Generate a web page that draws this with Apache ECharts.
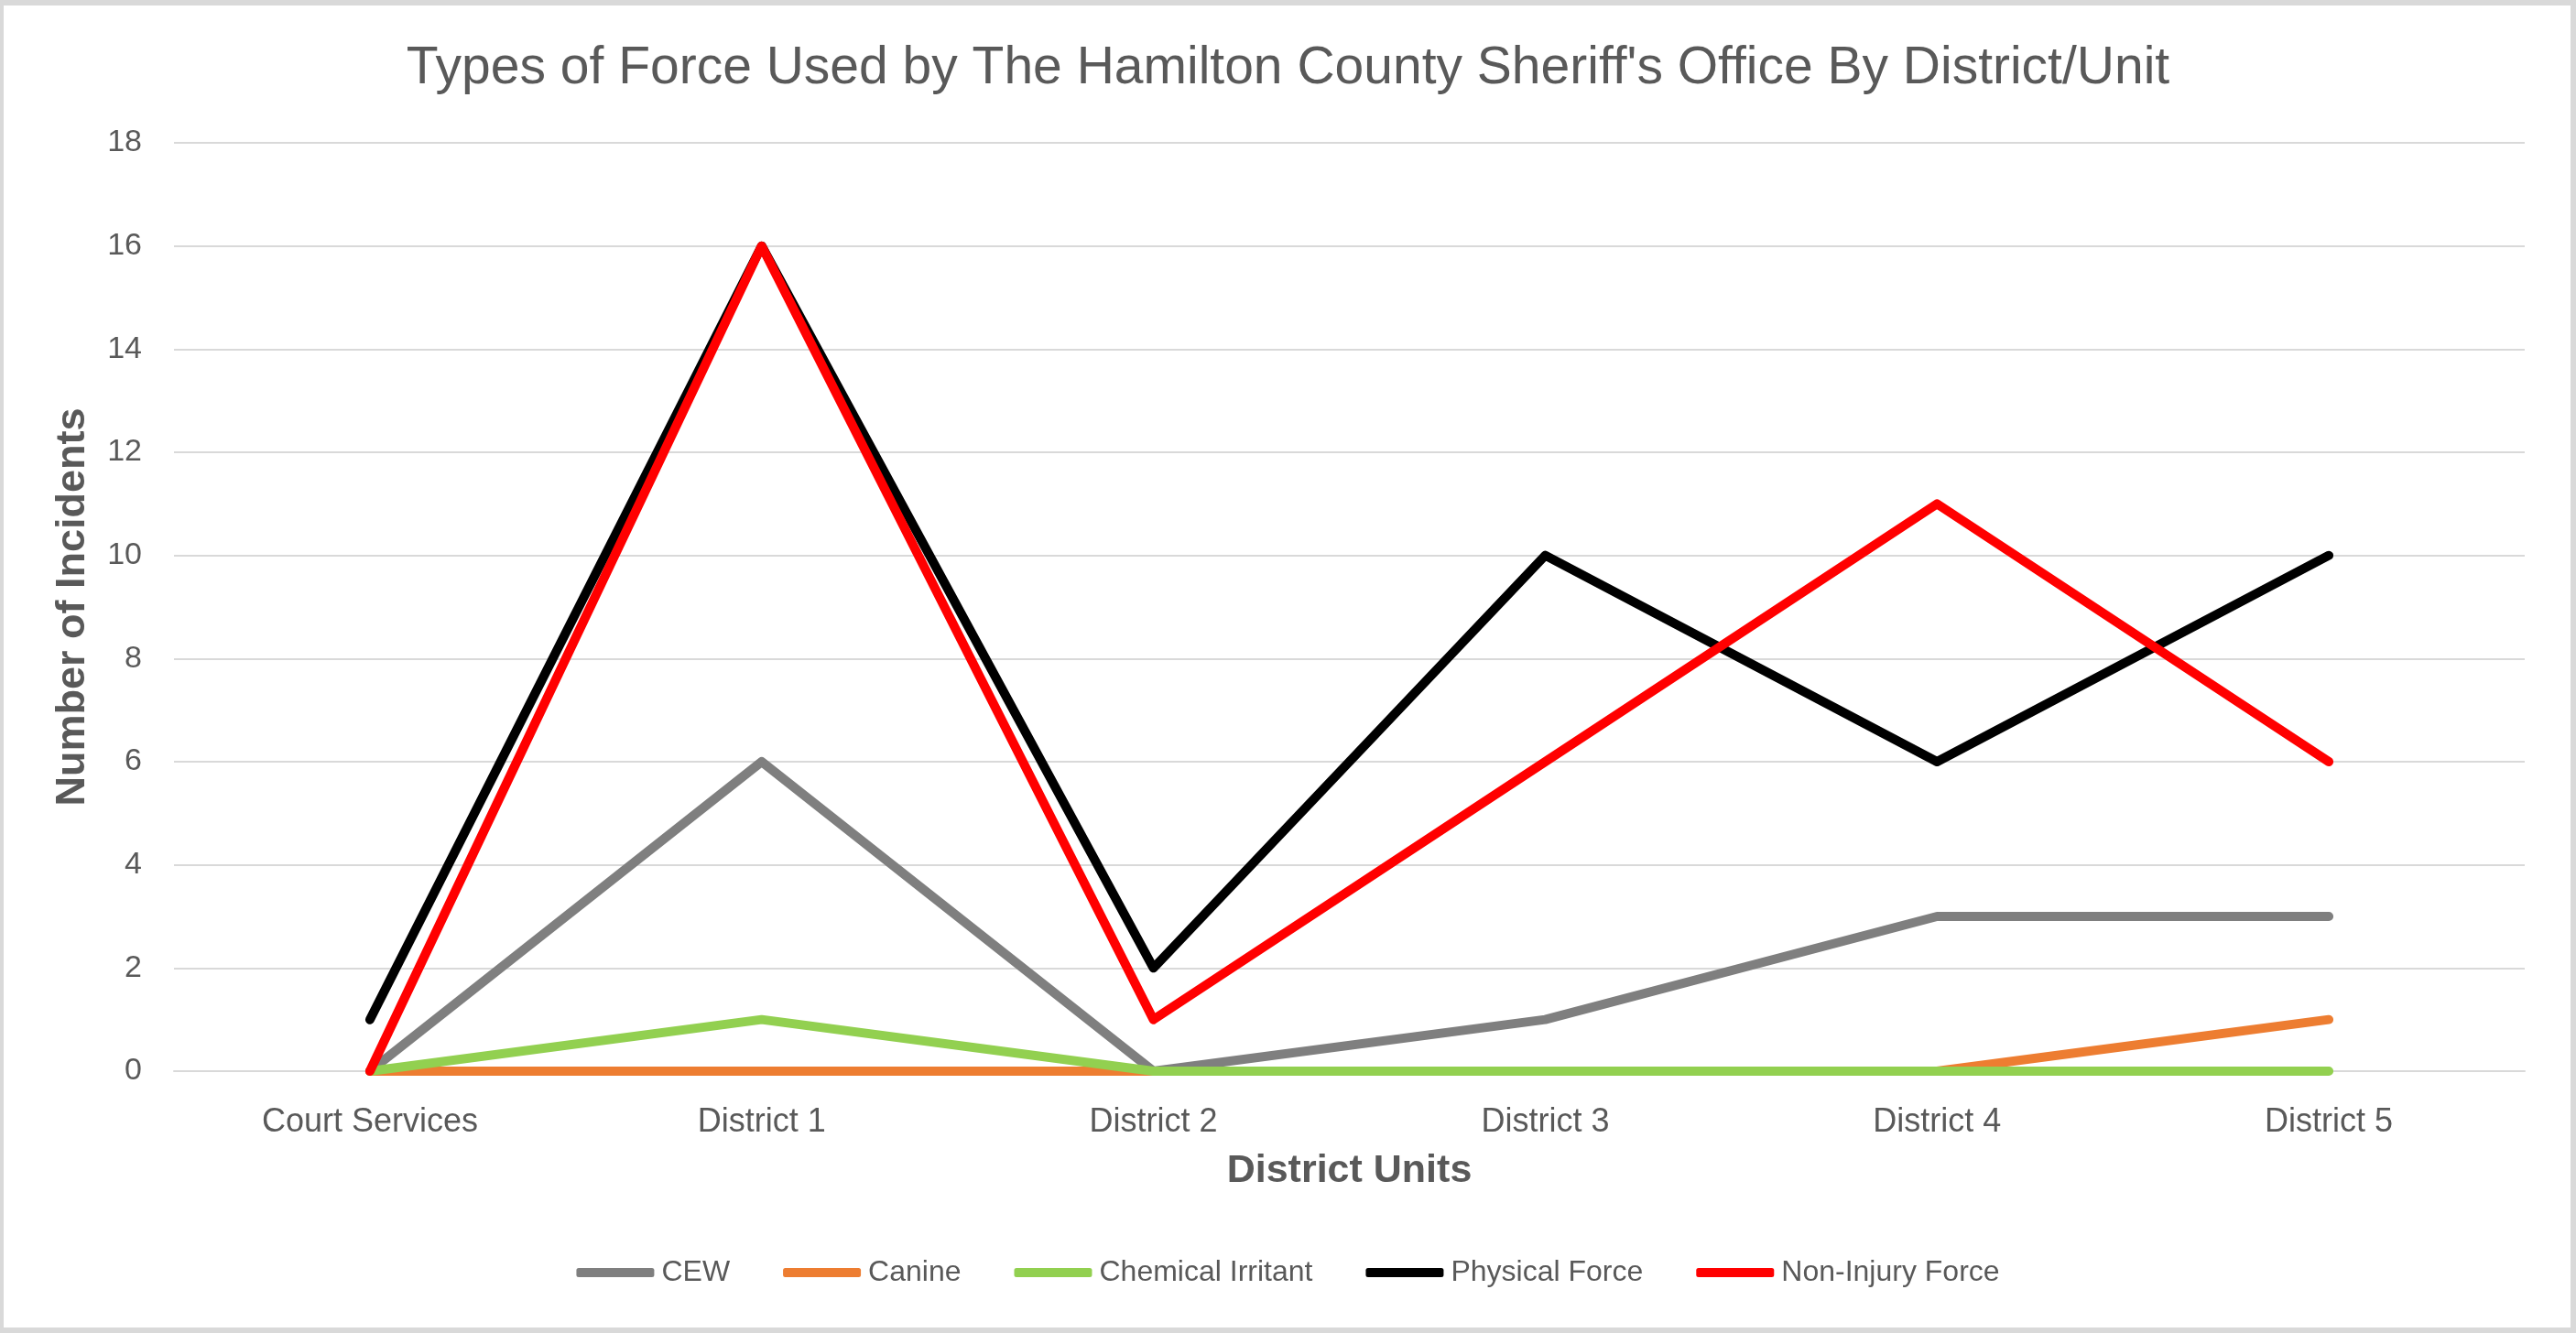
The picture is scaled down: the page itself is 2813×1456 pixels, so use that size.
<!DOCTYPE html>
<html>
<head>
<meta charset="utf-8">
<script src="https://cdn.jsdelivr.net/npm/echarts@6/dist/echarts.min.js"></script>
<style>
  html, body { margin: 0; padding: 0; background: #ffffff; }
  #chart { position: absolute; left: 0; top: 0; width: 2813px; height: 1456px; }
  #frame { position: absolute; left: 0; top: 0; width: 2813px; height: 1456px; box-sizing: border-box;
           border-style: solid; border-color: #d9d9d9; border-width: 6px 6px 6px 4px; pointer-events: none; }
</style>
</head>
<body>
<div id="chart"></div>
<div id="frame"></div>
<script>
const categories = ['Court Services', 'District 1', 'District 2', 'District 3', 'District 4', 'District 5'];
const seriesNames = ['CEW', 'Canine', 'Chemical Irritant', 'Physical Force', 'Non-Injury Force'];
const cew = [0, 6, 0, 1, 3, 3];
const canine = [0, 0, 0, 0, 0, 1];
const chemicalIrritant = [0, 1, 0, 0, 0, 0];
const physicalForce = [1, 16, 2, 10, 6, 10];
const nonInjuryForce = [0, 16, 1, 6, 11, 6];
const seriesColors = ['#7f7f7f', '#ed7d31', '#92d050', '#000000', '#ff0000'];
const seriesValues = [cew, canine, chemicalIrritant, physicalForce, nonInjuryForce];

const textColor = '#595959';
const fontFamily = '"Liberation Sans", Arial, sans-serif';

const chart = echarts.init(document.getElementById('chart'));
chart.setOption({
  backgroundColor: '#ffffff',
  animation: false,
  title: {
    text: "Types of Force Used by The Hamilton County Sheriff's Office By District/Unit",
    left: 'center',
    top: 42,
    textStyle: { color: textColor, fontSize: 57, fontWeight: 'normal', fontFamily: fontFamily }
  },
  legend: {
    bottom: 1456 - 1395 - 16,
    left: 'center',
    icon: 'roundRect',
    itemWidth: 85,
    itemHeight: 10,
    itemGap: 58,
    textStyle: { color: textColor, fontSize: 32, fontFamily: fontFamily, padding: [0, 0, 0, 3] },
    data: seriesNames
  },
  grid: { left: 190, right: 56, top: 156, bottom: 286 },
  xAxis: {
    type: 'category',
    data: categories,
    boundaryGap: true,
    name: 'District Units',
    nameLocation: 'middle',
    nameGap: 88,
    nameTextStyle: { color: textColor, fontSize: 43, fontWeight: 'bold', fontFamily: fontFamily },
    axisLine: { show: true, lineStyle: { color: '#d9d9d9', width: 2 } },
    axisTick: { show: false },
    axisLabel: { color: textColor, fontSize: 36, fontFamily: fontFamily, margin: 38 }
  },
  yAxis: {
    type: 'value',
    min: 0,
    max: 18,
    interval: 2,
    name: 'Number of Incidents',
    nameLocation: 'middle',
    nameGap: 88,
    nameTextStyle: { color: textColor, fontSize: 45, fontWeight: 'bold', fontFamily: fontFamily },
    axisLine: { show: false },
    axisTick: { show: false },
    axisLabel: { color: textColor, fontSize: 34, fontFamily: fontFamily, margin: 35 },
    splitLine: { show: true, lineStyle: { color: '#d9d9d9', width: 2 } }
  },
  series: seriesNames.map((name, i) => ({
    name: name,
    type: 'line',
    data: seriesValues[i],
    showSymbol: false,
    symbol: 'none',
    smooth: false,
    color: seriesColors[i],
    lineStyle: { color: seriesColors[i], width: 10, cap: 'round', join: 'round' },
    itemStyle: { color: seriesColors[i] }
  }))
});
</script>
</body>
</html>
